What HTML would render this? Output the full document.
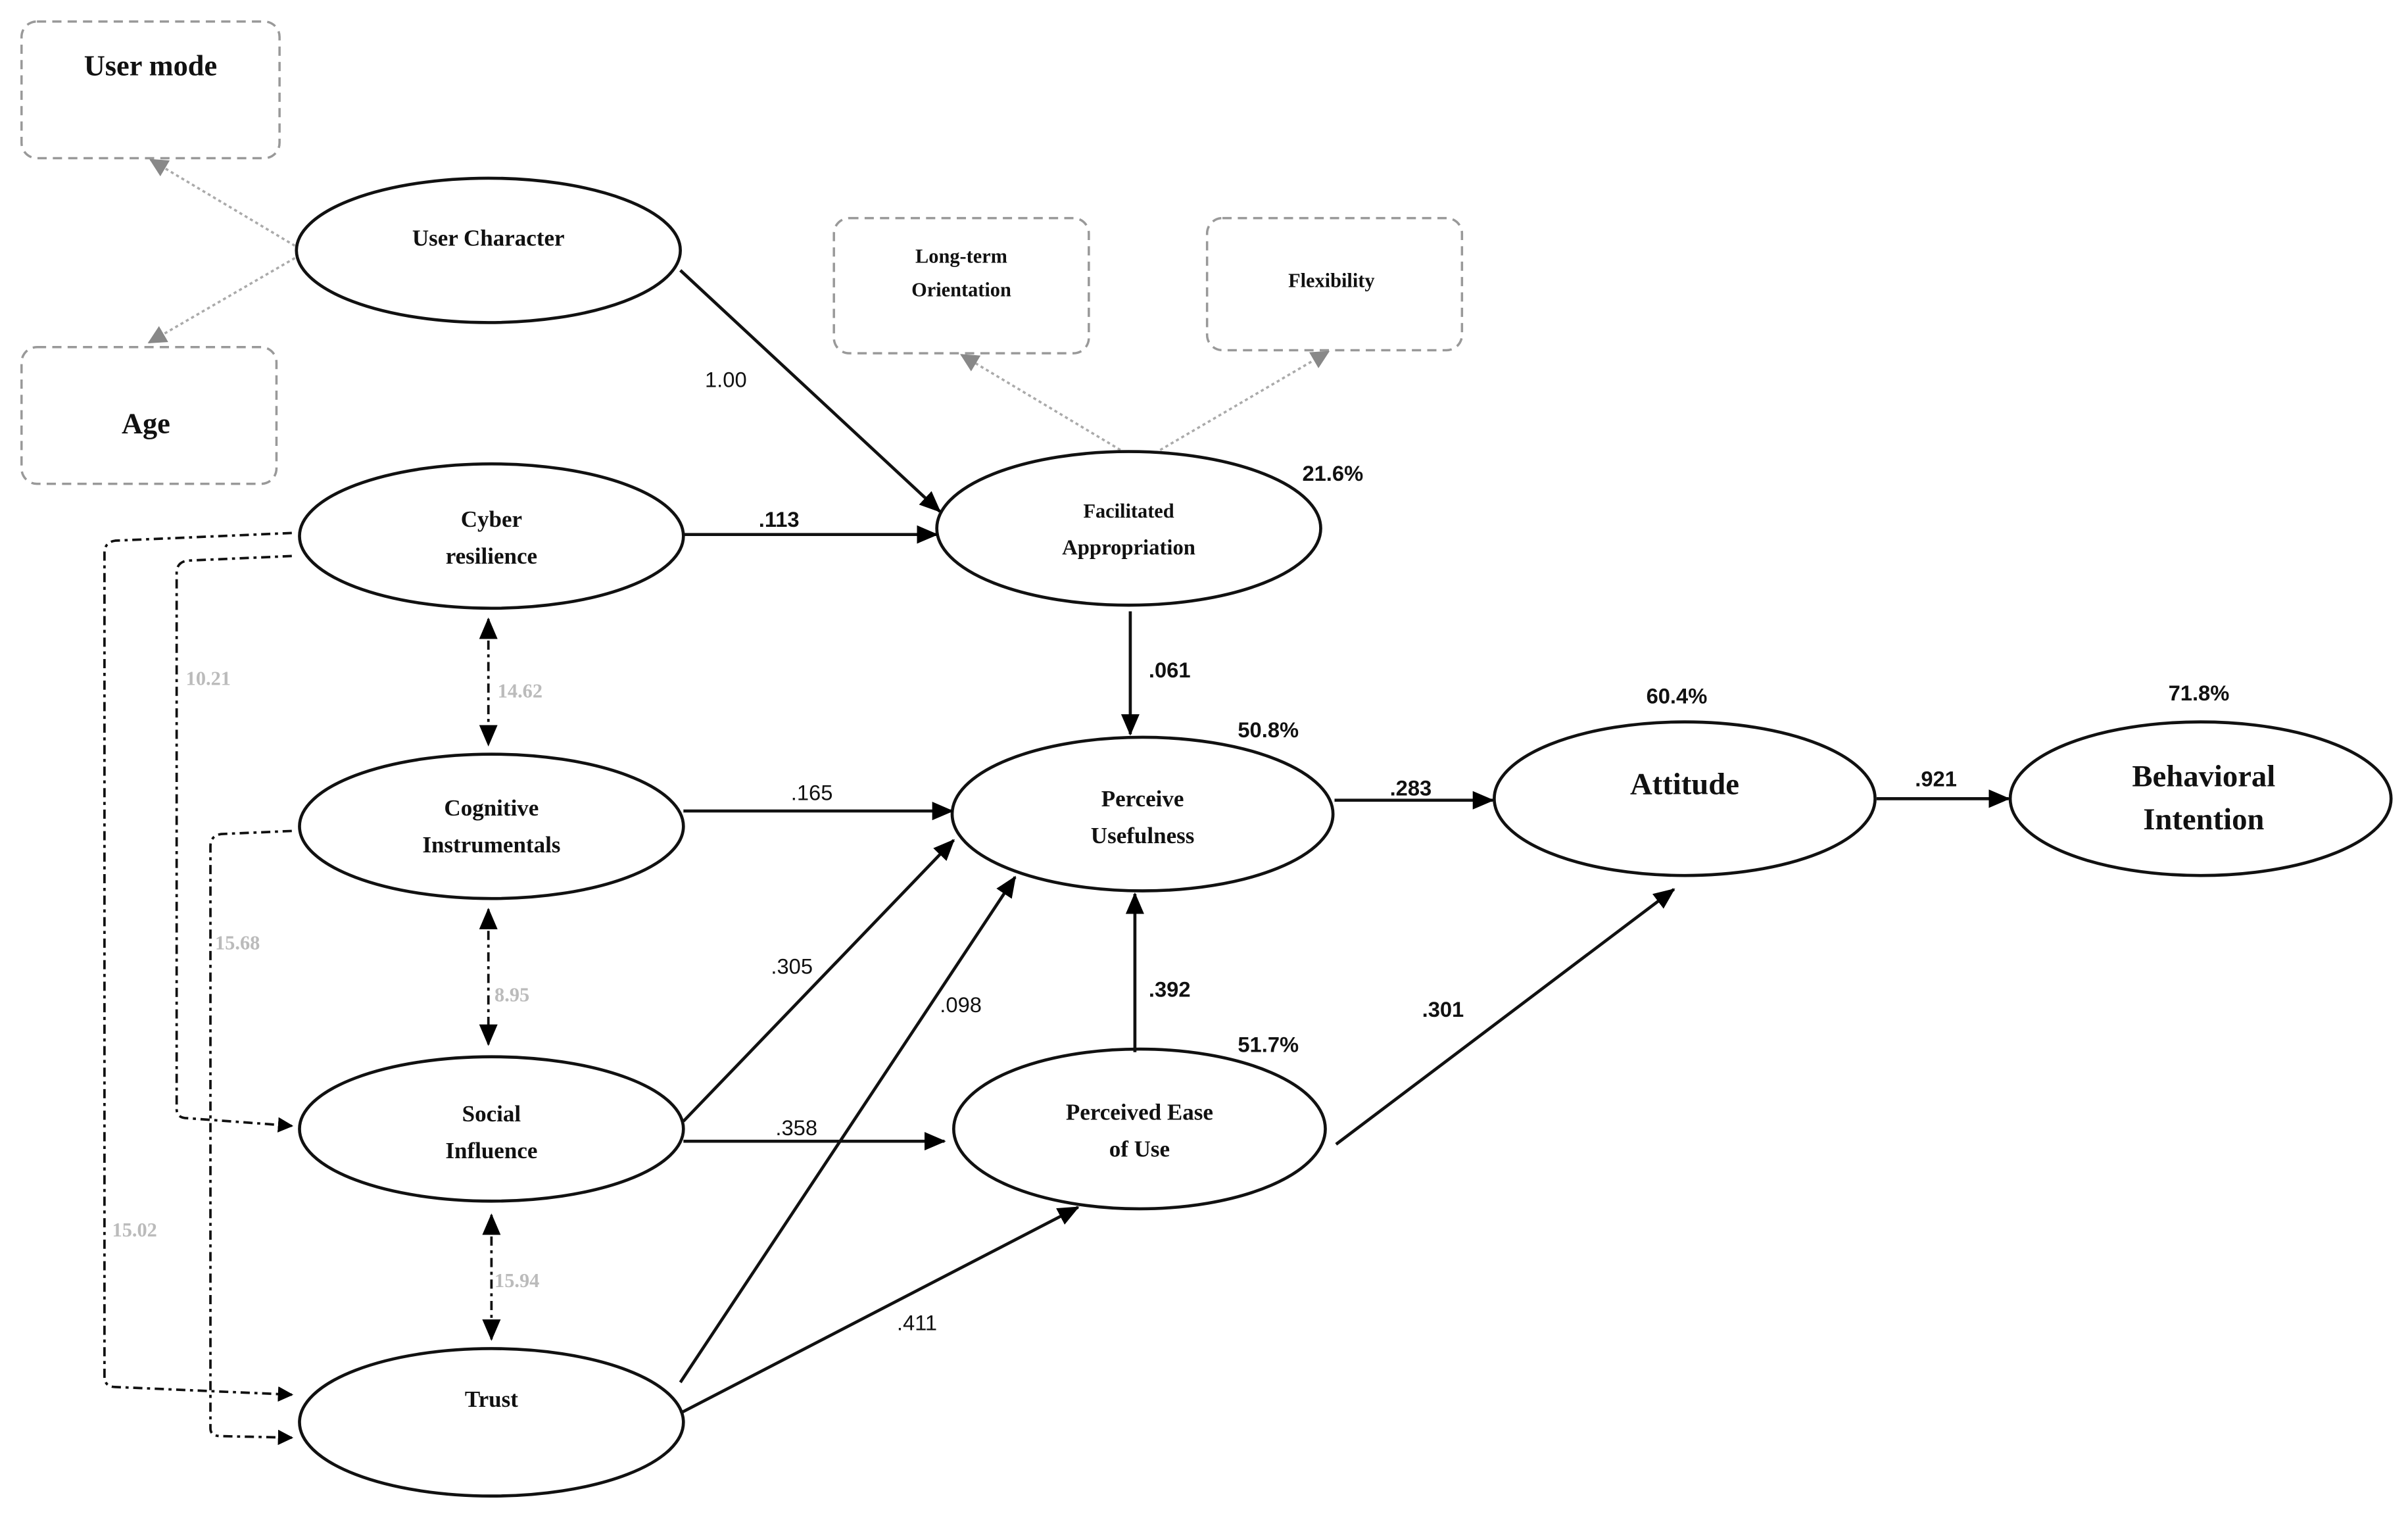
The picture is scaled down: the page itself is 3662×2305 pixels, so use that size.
<!DOCTYPE html>
<html><head><meta charset="utf-8"><style>
html,body{margin:0;padding:0;background:#fff;}
svg{display:block;}
.n{font-family:"Liberation Serif",serif;font-weight:bold;fill:#111;text-anchor:middle;}
.l{font-family:"Liberation Sans",sans-serif;font-size:14px;fill:#111;}
.g{font-family:"Liberation Serif",serif;font-weight:bold;font-size:13px;fill:#bbb;}
</style></head><body>
<svg width="3662" height="2305" viewBox="0 0 1568 987" xmlns="http://www.w3.org/2000/svg">
<defs>
<marker id="a" markerWidth="10" markerHeight="10" refX="9" refY="5" orient="auto" markerUnits="userSpaceOnUse"><path d="M0,0 L10,5 L0,10 z" fill="#000"/></marker>
<marker id="as" markerWidth="14" markerHeight="14" refX="13" refY="7" orient="auto" markerUnits="userSpaceOnUse"><path d="M0,1 L14,7 L0,13 z" fill="#000"/></marker>
<marker id="ab" markerWidth="14" markerHeight="14" refX="1" refY="7" orient="auto" markerUnits="userSpaceOnUse"><path d="M14,1 L0,7 L14,13 z" fill="#000"/></marker>
<marker id="gr" markerWidth="12" markerHeight="12" refX="11" refY="6" orient="auto" markerUnits="userSpaceOnUse"><path d="M0,0 L12,6 L0,12 z" fill="#888"/></marker>
</defs>
<g fill="none" stroke="#999" stroke-width="1.5" stroke-dasharray="6,4">
<rect x="14" y="14" width="168" height="89" rx="10"/>
<rect x="14" y="226" width="166" height="89" rx="10"/>
<rect x="543" y="142" width="166" height="88" rx="10"/>
<rect x="786" y="142" width="166" height="86" rx="10"/>
</g>
<g stroke="#aaa" stroke-width="1.5" stroke-dasharray="2,2" fill="none">
<line x1="192" y1="160" x2="98" y2="104" marker-end="url(#gr)"/>
<line x1="192" y1="168" x2="97" y2="223" marker-end="url(#gr)"/>
<line x1="733" y1="295" x2="626" y2="231" marker-end="url(#gr)"/>
<line x1="752" y1="295" x2="865" y2="229" marker-end="url(#gr)"/>
</g>
<g fill="#fff" stroke="#111" stroke-width="2">
<ellipse cx="318" cy="163" rx="125" ry="47"/>
<ellipse cx="320" cy="349" rx="125" ry="47"/>
<ellipse cx="320" cy="538" rx="125" ry="47"/>
<ellipse cx="320" cy="735" rx="125" ry="47"/>
<ellipse cx="320" cy="926" rx="125" ry="48"/>
<ellipse cx="735" cy="344" rx="125" ry="50"/>
<ellipse cx="744" cy="530" rx="124" ry="50"/>
<ellipse cx="742" cy="735" rx="121" ry="52"/>
<ellipse cx="1097" cy="520" rx="124" ry="50"/>
<ellipse cx="1433" cy="520" rx="124" ry="50"/>
</g>
<g stroke="#111" stroke-width="2" fill="none">
<line x1="443" y1="176" x2="612" y2="333" marker-end="url(#as)"/>
<line x1="445" y1="348" x2="610" y2="348" marker-end="url(#as)"/>
<line x1="736" y1="398" x2="736" y2="478" marker-end="url(#as)"/>
<line x1="445" y1="528" x2="620" y2="528" marker-end="url(#as)"/>
<line x1="445" y1="730" x2="621" y2="547" marker-end="url(#as)"/>
<line x1="445" y1="743" x2="615" y2="743" marker-end="url(#as)"/>
<line x1="443" y1="900" x2="661" y2="571" marker-end="url(#as)"/>
<line x1="443" y1="920" x2="702" y2="786" marker-end="url(#as)"/>
<line x1="739" y1="685" x2="739" y2="582" marker-end="url(#as)"/>
<line x1="869" y1="521" x2="972" y2="521" marker-end="url(#as)"/>
<line x1="870" y1="745" x2="1090" y2="579" marker-end="url(#as)"/>
<line x1="1222" y1="520" x2="1308" y2="520" marker-end="url(#as)"/>
</g>
<g stroke="#111" stroke-width="1.6" fill="none" stroke-dasharray="6,3,2,3">
<path d="M190,347 L75,352 Q68,353 68,360 L68,896 Q68,903 75,903 L190,908" marker-end="url(#a)"/>
<path d="M190,362 L122,365 Q115,366 115,373 L115,722 Q115,728 122,728 L190,733" marker-end="url(#a)"/>
<path d="M190,541 L144,543 Q137,544 137,551 L137,930 Q137,935 144,935 L190,936" marker-end="url(#a)"/>
<line x1="190" y1="908" x2="190" y2="908"/>
<line x1="318" y1="403" x2="318" y2="485" marker-start="url(#ab)" marker-end="url(#as)"/>
<line x1="318" y1="592" x2="318" y2="680" marker-start="url(#ab)" marker-end="url(#as)"/>
<line x1="320" y1="791" x2="320" y2="872" marker-start="url(#ab)" marker-end="url(#as)"/>
</g>
<path d="M180,347 L190,347" stroke="none"/>
<text class="n" x="98" y="49" font-size="19">User mode</text>
<text class="n" x="95" y="282" font-size="19">Age</text>
<text class="n" x="318" y="160" font-size="15">User Character</text>
<text class="n" x="320" y="343" font-size="15">Cyber</text>
<text class="n" x="320" y="367" font-size="15">resilience</text>
<text class="n" x="320" y="531" font-size="15">Cognitive</text>
<text class="n" x="320" y="555" font-size="15">Instrumentals</text>
<text class="n" x="320" y="730" font-size="15">Social</text>
<text class="n" x="320" y="754" font-size="15">Influence</text>
<text class="n" x="320" y="916" font-size="15">Trust</text>
<text class="n" x="626" y="171" font-size="13">Long-term</text>
<text class="n" x="626" y="193" font-size="13">Orientation</text>
<text class="n" x="867" y="187" font-size="13">Flexibility</text>
<text class="n" x="735" y="337" font-size="13">Facilitated</text>
<text class="n" x="735" y="361" font-size="14">Appropriation</text>
<text class="n" x="744" y="525" font-size="15">Perceive</text>
<text class="n" x="744" y="549" font-size="15">Usefulness</text>
<text class="n" x="742" y="729" font-size="15">Perceived Ease</text>
<text class="n" x="742" y="753" font-size="15">of Use</text>
<text class="n" x="1097" y="517" font-size="20">Attitude</text>
<text class="n" x="1435" y="512" font-size="20">Behavioral</text>
<text class="n" x="1435" y="540" font-size="20">Intention</text>
<text class="l" x="459" y="252">1.00</text>
<text class="l" x="494" y="343" font-weight="bold">.113</text>
<text class="l" x="748" y="441" font-weight="bold">.061</text>
<text class="l" x="515" y="521">.165</text>
<text class="l" x="502" y="634">.305</text>
<text class="l" x="612" y="659">.098</text>
<text class="l" x="748" y="649" font-weight="bold">.392</text>
<text class="l" x="505" y="739">.358</text>
<text class="l" x="584" y="866">.411</text>
<text class="l" x="905" y="518" font-weight="bold">.283</text>
<text class="l" x="926" y="662" font-weight="bold">.301</text>
<text class="l" x="1247" y="512" font-weight="bold">.921</text>
<text class="l" x="848" y="313" font-weight="bold" font-size="13">21.6%</text>
<text class="l" x="806" y="480" font-weight="bold" font-size="13">50.8%</text>
<text class="l" x="1072" y="458" font-weight="bold" font-size="13">60.4%</text>
<text class="l" x="1412" y="456" font-weight="bold" font-size="13">71.8%</text>
<text class="l" x="806" y="685" font-weight="bold" font-size="13">51.7%</text>
<text class="g" x="121" y="446">10.21</text>
<text class="g" x="324" y="454">14.62</text>
<text class="g" x="140" y="618">15.68</text>
<text class="g" x="322" y="652">8.95</text>
<text class="g" x="73" y="805">15.02</text>
<text class="g" x="322" y="838">15.94</text>
</svg>
</body></html>
